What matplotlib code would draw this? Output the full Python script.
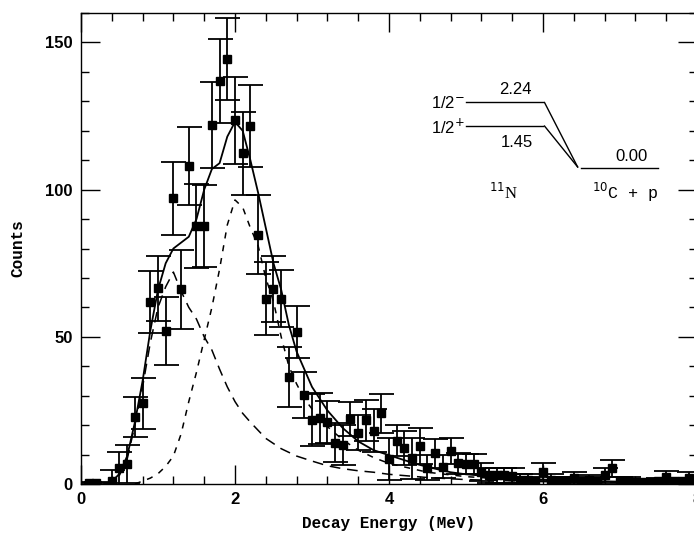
"""11N decay energy spectrum with fitted 1/2+ and 1/2- components."""
import matplotlib

matplotlib.use("Agg")
import matplotlib.pyplot as plt
from matplotlib.ticker import MultipleLocator

# measured spectrum (MeV, counts, error)
energy = [0.1, 0.2, 0.4, 0.5, 0.6, 0.7, 0.8, 0.9, 1.0, 1.1, 1.2, 1.3, 1.4, 1.5,
          1.6, 1.7, 1.8, 1.9, 2.0, 2.1, 2.2, 2.3, 2.4, 2.5, 2.6, 2.7, 2.8, 2.9,
          3.0, 3.1, 3.2, 3.3, 3.4, 3.5, 3.6, 3.7, 3.8, 3.9, 4.0, 4.1, 4.2, 4.3,
          4.4, 4.5, 4.6, 4.7, 4.8, 4.9, 5.0, 5.1, 5.2, 5.3, 5.4, 5.5, 5.6, 5.7,
          5.8, 5.9, 6.0, 6.1, 6.2, 6.3, 6.4, 6.5, 6.6, 6.7, 6.8, 6.9, 7.0, 7.1,
          7.2, 7.3, 7.4, 7.5, 7.6, 7.7, 7.8, 7.9]
counts = [0.5, 0.5, 1.1, 5.3, 6.8, 22.8, 27.4, 61.9, 66.5, 52.0, 97.0, 66.2, 108.0, 87.7,
          87.7, 121.9, 136.9, 144.3, 123.6, 112.3, 121.6, 84.7, 63.0, 66.1, 63.0, 36.4, 51.7, 30.2,
          21.7, 22.3, 21.1, 14.1, 13.2, 22.0, 17.4, 21.7, 18.1, 24.0, 8.5, 14.7, 12.2, 8.7,
          12.8, 5.5, 10.4, 5.9, 11.3, 7.0, 6.8, 6.8, 4.0, 3.0, 3.0, 3.0, 2.8, 1.4,
          1.4, 1.0, 4.2, 1.4, 1.0, 1.0, 2.0, 1.0, 1.4, 1.0, 3.0, 5.3, 1.0, 1.0,
          0.8, 0.8, 0.8, 1.0, 2.5, 1.0, 1.0, 2.0]
errors = [0.3, 0.3, 3.5, 5.7, 6.4, 6.8, 8.7, 10.6, 11.0, 11.6, 12.5, 13.4, 13.3, 14.3,
          14.0, 14.7, 14.1, 14.0, 14.8, 14.2, 14.0, 13.4, 12.3, 11.2, 9.8, 10.2, 8.8, 7.9,
          8.9, 8.7, 7.2, 6.5, 6.7, 5.8, 6.0, 7.0, 7.3, 6.7, 7.0, 5.3, 5.9, 7.0,
          6.1, 4.3, 4.9, 4.0, 4.5, 3.7, 3.5, 3.5, 3.0, 2.6, 2.5, 2.5, 2.5, 2.0,
          2.0, 1.5, 3.0, 2.0, 1.5, 1.5, 2.0, 1.5, 1.5, 1.5, 2.5, 3.0, 1.5, 1.5,
          1.0, 1.0, 1.0, 1.2, 2.0, 1.2, 1.2, 2.0]

# total fit
fit_e = [0.3, 0.4, 0.5, 0.6, 0.7, 0.8, 0.9, 1.0, 1.1, 1.2, 1.3, 1.4, 1.5, 1.6, 1.7,
         1.8, 1.9, 2.0, 2.1, 2.2, 2.3, 2.4, 2.5, 2.6, 2.7, 2.8, 2.9, 3.0, 3.2, 3.4,
         3.6, 3.8, 4.0, 4.2, 4.4, 4.6, 4.8, 5.0, 5.5, 6.0, 6.5, 7.0, 7.5, 8.0]
fit_total = [0.0, 0.8, 3.5, 9.5, 21, 35, 52, 66, 75, 80, 82, 84, 90, 100, 107,
             109, 118, 123, 120, 110, 99, 87, 75, 66, 54, 45, 39, 33, 25, 19,
             14.5, 11.5, 9.8, 8.1, 6.5, 5.2, 4.0, 3.3, 2.2, 1.5, 1.1, 0.8, 0.6, 0.5]

# 1/2+ component (long dashes)
low_e = [0.3, 0.4, 0.5, 0.6, 0.7, 0.8, 0.9, 1.0, 1.1, 1.2, 1.3, 1.4, 1.5, 1.6, 1.7,
         1.8, 1.9, 2.0, 2.1, 2.2, 2.4, 2.6, 2.8, 3.0, 3.2, 3.4, 3.6, 3.8, 4.0, 4.5,
         5.0, 6.0, 7.0, 8.0]
low_state = [0.0, 0.5, 3, 8.5, 20, 33, 48, 60, 67, 72, 65.5, 60, 56, 50, 45.5,
             39, 33, 28, 24, 21, 15.5, 12, 9.5, 7.8, 6.2, 5.2, 4.5, 4.0, 3.3, 2.2,
             1.5, 0.8, 0.5, 0.3]

# 1/2- component (short dashes)
high_e = [0.7, 0.8, 0.9, 1.0, 1.1, 1.2, 1.3, 1.4, 1.5, 1.6, 1.7, 1.8, 1.9, 2.0, 2.1,
          2.2, 2.3, 2.4, 2.5, 2.6, 2.7, 2.8, 2.9, 3.0, 3.2, 3.4, 3.6, 3.8, 4.0, 4.5,
          5.0, 5.5, 6.0, 7.0, 8.0]
high_state = [0.0, 1, 2, 3.5, 6, 9.5, 17, 28, 38, 49, 60, 73, 88, 96.5, 94,
              87, 81, 70, 62, 50, 40, 34, 29, 25.5, 19.5, 15, 11.5, 9, 7, 4,
              2.5, 1.7, 1.2, 0.6, 0.3]

MONO = "Liberation Mono"
SANS = "Liberation Sans"

fig = plt.figure(figsize=(6.94, 5.33), dpi=100)
ax = fig.add_axes([0.1167, 0.0919, 0.8876, 0.8837])

ax.errorbar(energy, counts, yerr=errors, fmt="s", color="black", ms=5.5,
            elinewidth=1.3, capsize=9, capthick=1.3, zorder=3)
ax.plot(fit_e, fit_total, color="black", lw=1.3, zorder=2)
ax.plot(low_e, low_state, color="black", lw=1.1, dashes=(7, 4.5), zorder=2)
ax.plot(high_e, high_state, color="black", lw=1.1, dashes=(4, 4.5), zorder=2)

ax.set_xlim(0, 8)
ax.set_ylim(0, 160)
ax.xaxis.set_major_locator(MultipleLocator(2))
ax.xaxis.set_minor_locator(MultipleLocator(0.4))
ax.yaxis.set_major_locator(MultipleLocator(50))
ax.yaxis.set_minor_locator(MultipleLocator(10))
ax.tick_params(which="both", direction="in", top=True, right=True, width=1.0)
ax.tick_params(which="major", length=14, pad=6)
ax.tick_params(which="minor", length=5.5)
for spine in ax.spines.values():
    spine.set_linewidth(1.0)
for lab in ax.get_xticklabels() + ax.get_yticklabels():
    lab.set_fontfamily(SANS)
    lab.set_fontweight("bold")
    lab.set_fontsize(12)

ax.set_xlabel("Decay Energy (MeV)", fontfamily=MONO, fontweight="bold", fontsize=11.5, labelpad=6)
ax.set_ylabel("Counts", fontfamily=MONO, fontweight="bold", fontsize=11.5, labelpad=14)

# level scheme inset
ax.plot([5.0, 6.0], [129.6, 129.6], color="black", lw=1.0)
ax.plot([5.0, 6.0], [121.6, 121.6], color="black", lw=1.0)
ax.plot([6.02, 6.45], [129.6, 107.7], color="black", lw=1.0)
ax.plot([6.02, 6.45], [121.6, 107.7], color="black", lw=1.0)
ax.plot([6.5, 7.5], [107.2, 107.2], color="black", lw=1.0)
ax.text(4.98, 129.3, r"1/2$^{-}$", ha="right", va="center", fontsize=12, fontfamily=SANS)
ax.text(4.98, 121.3, r"1/2$^{+}$", ha="right", va="center", fontsize=12, fontfamily=SANS)
ax.text(5.64, 134.1, "2.24", ha="center", va="center", fontsize=12, fontfamily=SANS)
ax.text(5.66, 115.9, "1.45", ha="center", va="center", fontsize=12, fontfamily=SANS)
ax.text(7.15, 111.1, "0.00", ha="center", va="center", fontsize=12, fontfamily=SANS)
ax.text(5.49, 98.9, r"$^{11}$N", ha="center", va="center", fontsize=12, fontfamily="Liberation Serif")
ax.text(7.07, 98.9, r"$^{10}$C + p", ha="center", va="center", fontsize=12, fontfamily=MONO)

fig.savefig("out.png", dpi=100)
